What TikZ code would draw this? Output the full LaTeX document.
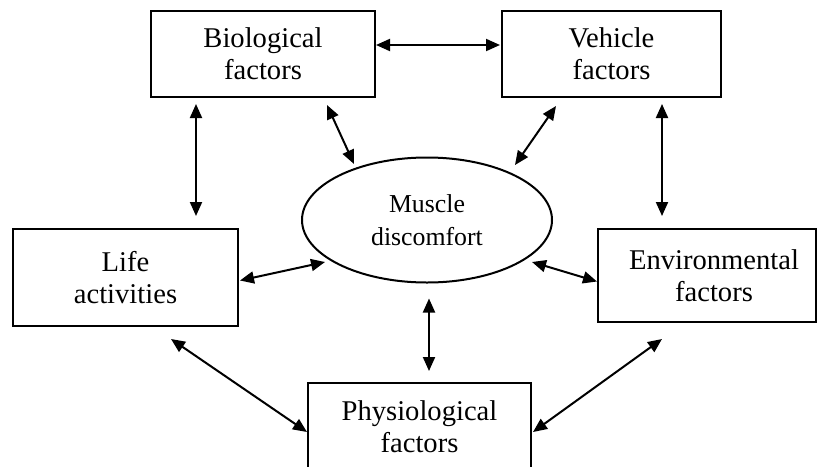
\documentclass[tikz,border=0pt]{standalone}
\usepackage{fontspec}
\setmainfont{Liberation Serif}
\usepackage{tikz}
\usetikzlibrary{arrows.meta, positioning, shapes.geometric}

\begin{document}
\begin{tikzpicture}[x=1pt, y=-1pt,
    factor/.style={draw, line width=2pt, inner sep=0pt, align=center,
        font=\fontsize{28.6}{32}\selectfont},
    centre/.style={draw, ellipse, line width=2pt, inner sep=0pt, align=center,
        minimum width=250pt, minimum height=125pt,
        font=\fontsize{25.8}{33}\selectfont},
    link/.style={{Triangle[length=14pt,width=12pt]}-{Triangle[length=14pt,width=12pt]}, line width=2pt}]

\useasboundingbox (0,0) rectangle (818,466);

% nodes
\node[factor, minimum width=224pt, minimum height=86pt] (bio) at (263, 54) {Biological\\factors};
\node[factor, minimum width=219pt, minimum height=86pt] (veh) at (611.5, 54) {Vehicle\\factors};
\node[factor, minimum width=225pt, minimum height=97pt] (life) at (125.5, 277.5) {Life\\activities};
\node[factor, minimum width=218pt, minimum height=93pt] (env) at (707, 275.5) {\hspace*{14pt}Environmental\\\hspace*{14pt}factors};
\node[factor, minimum width=223pt, minimum height=87pt] (phys) at (419.5, 426.5) {Physiological\\factors};

\node[centre] (mus) at (427, 220) {Muscle\\discomfort};

% arrows
\draw [link] ([shift={(0,-9)}]bio.east) -- ([shift={(-1,-9)}]veh.west);
\draw [link] ([shift={(46,6)}]bio.south west) -- ([shift={(184,-12)}]life.north west);
\draw [link] ([shift={(161,6)}]veh.south west) -- ([shift={(65,-12)}]env.north west);

\draw [link] ([shift={(177,7)}]bio.south west) -- ([shift={(-73,-56)}]mus.center);
\draw [link] ([shift={(55,8)}]veh.south west) -- ([shift={(88,-55)}]mus.center);
\draw [link] ([shift={(1,3)}]life.east) -- ([shift={(-102,42)}]mus.center);
\draw [link] ([shift={(105,42)}]mus.center) -- ([shift={(0,6)}]env.west);
\draw [link] ([shift={(2,15)}]mus.south) -- ([shift={(9.5,-11)}]phys.north);

\draw [link] ([shift={(159,12)}]life.south west) -- ([shift={(0,5.5)}]phys.west);
\draw [link] ([shift={(65,16)}]env.south west) -- ([shift={(1,5.5)}]phys.east);

\end{tikzpicture}
\end{document}
